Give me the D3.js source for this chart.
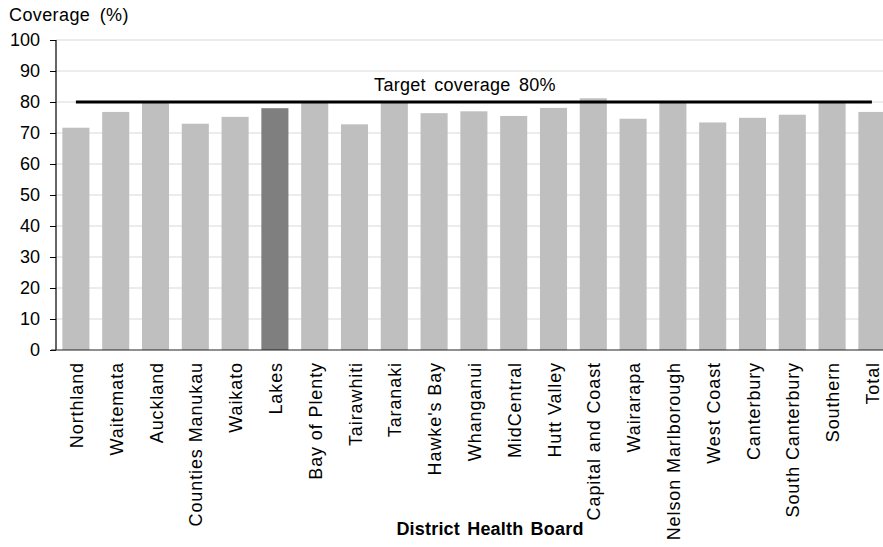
<!DOCTYPE html>
<html>
<head>
<meta charset="utf-8">
<script src="https://cdn.jsdelivr.net/npm/d3@7"></script>
<style>
  body { margin: 0; background: #fff; }
  svg { display: block; font-family: "Liberation Sans", Arial, sans-serif; }
</style>
</head>
<body>
<div id="chart"></div>
<script>
// District health boards and coverage values (%)
const boards = ["Northland", "Waitemata", "Auckland", "Counties Manukau", "Waikato", "Lakes",
  "Bay of Plenty", "Tairawhiti", "Taranaki", "Hawke's Bay", "Whanganui", "MidCentral",
  "Hutt Valley", "Capital and Coast", "Wairarapa", "Nelson Marlborough", "West Coast",
  "Canterbury", "South Canterbury", "Southern", "Total"];
const coverage = [71.7, 76.8, 79.9, 73.0, 75.2, 78.0, 79.9, 72.8, 79.9, 76.4, 77.0, 75.5,
  78.1, 81.2, 74.6, 79.8, 73.4, 74.9, 75.9, 79.9, 76.8];
const highlighted = ["Lakes"];
const yTicks = [0, 10, 20, 30, 40, 50, 60, 70, 80, 90, 100];
const target = 80;
const targetLabel = "Target coverage 80%";

const width = 883, height = 547;
const margin = { top: 40, left: 56, bottom: 197 };

const svg = d3.select("#chart").append("svg")
  .attr("width", width)
  .attr("height", height);

const x = d3.scaleBand()
  .domain(boards)
  .range([margin.left, margin.left + 21 * 39.8])
  .paddingInner(0.32)
  .paddingOuter(0.16);

const y = d3.scaleLinear()
  .domain([0, 100])
  .range([height - margin.bottom, margin.top]);

// gridlines
svg.append("g")
  .selectAll("line")
  .data(yTicks.filter(d => d > 0))
  .join("line")
  .attr("x1", margin.left)
  .attr("x2", width)
  .attr("y1", d => y(d))
  .attr("y2", d => y(d))
  .attr("stroke", "#d9d9d9")
  .attr("stroke-width", 1.2);

// bars
const data = boards.map((b, i) => ({ board: b, value: coverage[i] }));
svg.append("g")
  .selectAll("rect")
  .data(data)
  .join("rect")
  .attr("x", d => x(d.board))
  .attr("width", x.bandwidth())
  .attr("y", d => y(d.value))
  .attr("height", d => y(0) - y(d.value))
  .attr("fill", d => highlighted.includes(d.board) ? "#7f7f7f" : "#bfbfbf");

// y axis
const yAxis = svg.append("g")
  .attr("transform", `translate(${margin.left},0)`)
  .call(d3.axisLeft(y).tickValues(yTicks).tickSize(6).tickPadding(10));
yAxis.select(".domain").attr("stroke", "#000").attr("stroke-width", 1.2)
  .attr("d", `M0,${y(100)}V${y(0)}`);
yAxis.selectAll(".tick line").attr("stroke", "#000");
yAxis.selectAll(".tick text")
  .attr("font-size", 18)
  .attr("font-family", "Liberation Sans, Arial, sans-serif")
  .attr("fill", "#000");

// x axis
const xAxis = svg.append("g")
  .attr("transform", `translate(0,${y(0)})`)
  .call(d3.axisBottom(x).tickSize(0).tickPadding(0));
xAxis.select(".domain").remove();
xAxis.append("line")
  .attr("x1", margin.left - 5)
  .attr("x2", width)
  .attr("stroke", "#222")
  .attr("stroke-width", 1.2);
xAxis.selectAll(".tick text")
  .attr("font-size", 18)
  .attr("font-family", "Liberation Sans, Arial, sans-serif")
  .attr("fill", "#000")
  .attr("text-anchor", "end")
  .attr("dy", null)
  .attr("transform", "translate(7,12) rotate(-90)")
  .style("letter-spacing", "0.9px");

// target line
const first = boards[0], last = boards[boards.length - 1];
svg.append("line")
  .attr("x1", x(first) + x.bandwidth() / 2)
  .attr("x2", x(last) + x.bandwidth() / 2)
  .attr("y1", y(target))
  .attr("y2", y(target))
  .attr("stroke", "#000")
  .attr("stroke-width", 3);

svg.append("text")
  .attr("x", 465)
  .attr("y", 91)
  .attr("text-anchor", "middle")
  .attr("font-size", 18)
  .style("letter-spacing", "0.3px")
  .style("word-spacing", "3px")
  .text(targetLabel);

// axis titles
svg.append("text")
  .attr("x", 9)
  .attr("y", 21)
  .attr("font-size", 18)
  .style("letter-spacing", "0.4px")
  .style("word-spacing", "4px")
  .text("Coverage (%)");

svg.append("text")
  .attr("x", 490)
  .attr("y", 535)
  .attr("text-anchor", "middle")
  .attr("font-size", 18)
  .attr("font-weight", "bold")
  .style("letter-spacing", "0.2px")
  .style("word-spacing", "2px")
  .text("District Health Board");
</script>
</body>
</html>
